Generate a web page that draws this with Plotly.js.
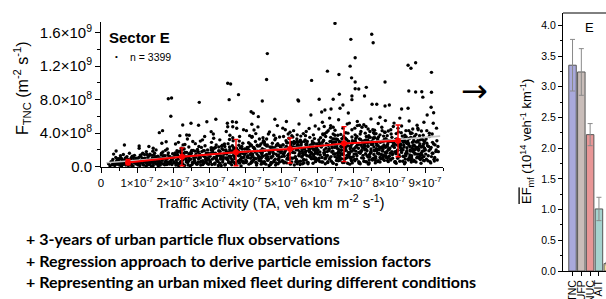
<!DOCTYPE html>
<html>
<head>
<meta charset="utf-8">
<script src="https://cdn.plot.ly/plotly-3.0.1.min.js"></script>
<style>
  html, body { margin: 0; padding: 0; background: #fff; }
  #chart { width: 606px; height: 299px; }
</style>
</head>
<body>
<div id="chart"></div>
<script>
// ---------------- DATA ----------------
// Scatter cloud: traffic activity in units of 1e-7 veh km m^-2 s^-1, flux in units of 1e8 m^-2 s^-1
const taCloud = [
  0.21,0.25,0.28,0.31,0.33,0.36,0.38,0.41,0.43,0.45,
  0.47,0.49,0.52,0.54,0.55,0.57,0.59,0.61,0.62,0.64,
  0.66,0.68,0.69,0.71,0.72,0.74,0.76,0.78,0.79,0.81,
  0.83,0.84,0.86,0.88,0.89,0.91,0.93,0.94,0.96,0.98,
  0.99,0.35,0.51,0.73,0.87,
  1.02,1.05,1.08,1.11,1.14,1.17,1.2,1.23,1.26,1.29,
  1.31,1.34,1.37,1.4,1.43,1.46,1.49,1.52,1.55,1.58,
  1.61,1.64,1.67,1.7,1.73,1.76,1.79,1.82,1.85,1.88,
  1.91,1.94,1.97,1.99,1.06,1.19,1.33,1.47,1.59,1.72,
  1.84,1.96,1.13,1.28,1.41,1.53,1.66,1.78,1.9,1.25,
  1.38,1.51,1.63,1.77,1.87,1.09,1.22,1.44,1.68,1.93,
  2.02,2.05,2.08,2.11,2.14,2.17,2.2,2.23,2.26,2.29,
  2.32,2.35,2.38,2.41,2.44,2.47,2.5,2.53,2.56,2.59,
  2.62,2.65,2.68,2.71,2.74,2.77,2.8,2.83,2.86,2.89,
  2.92,2.95,2.98,2.07,2.19,2.31,2.43,2.55,2.67,2.79,
  2.91,2.13,2.27,2.39,2.51,2.63,2.75,2.87,2.99,2.03,
  2.16,2.28,2.46,2.58,2.72,2.84,2.96,2.22,2.36,2.48,
  2.61,2.73,2.85,2.97,2.1,2.34,2.57,2.69,2.82,2.94,
  3.02,3.05,3.08,3.11,3.14,3.17,3.2,3.23,3.26,3.29,
  3.32,3.35,3.38,3.41,3.44,3.47,3.5,3.53,3.56,3.59,
  3.62,3.65,3.68,3.71,3.74,3.77,3.8,3.83,3.86,3.89,
  3.92,3.95,3.98,3.07,3.19,3.31,3.43,3.55,3.67,3.79,
  3.91,3.03,3.15,3.27,3.39,3.51,3.63,3.75,3.87,3.99,
  3.1,3.22,3.34,3.46,3.58,3.7,3.82,3.94,3.13,3.37,
  3.49,3.61,3.73,3.85,3.97,3.25,3.45,3.65,3.85,3.06,
  3.28,3.52,3.76,3.93,3.18,3.4,3.64,3.88,3.33,3.57,
  4.02,4.05,4.08,4.11,4.14,4.17,4.2,4.23,4.26,4.29,
  4.32,4.35,4.38,4.41,4.44,4.47,4.5,4.53,4.56,4.59,
  4.62,4.65,4.68,4.71,4.74,4.77,4.8,4.83,4.86,4.89,
  4.92,4.95,4.98,4.07,4.19,4.31,4.43,4.55,4.67,4.79,
  4.91,4.03,4.15,4.27,4.39,4.51,4.63,4.75,4.87,4.99,
  4.1,4.22,4.34,4.46,4.58,4.7,4.82,4.94,4.13,4.37,
  4.49,4.61,4.73,4.85,4.97,4.25,4.45,4.65,4.85,4.06,
  4.28,4.52,4.76,4.93,4.18,4.4,4.64,4.88,4.33,4.57,
  4.09,4.21,4.42,4.54,4.69,4.81,4.96,4.16,4.48,4.72,
  5.02,5.05,5.08,5.11,5.14,5.17,5.2,5.23,5.26,5.29,
  5.32,5.35,5.38,5.41,5.44,5.47,5.5,5.53,5.56,5.59,
  5.62,5.65,5.68,5.71,5.74,5.77,5.8,5.83,5.86,5.89,
  5.92,5.95,5.98,5.07,5.19,5.31,5.43,5.55,5.67,5.79,
  5.91,5.03,5.15,5.27,5.39,5.51,5.63,5.75,5.87,5.99,
  5.1,5.22,5.34,5.46,5.58,5.7,5.82,5.94,5.13,5.37,
  5.49,5.61,5.73,5.85,5.97,5.25,5.45,5.65,5.85,5.06,
  5.28,5.52,5.76,5.93,5.18,5.4,5.64,5.88,5.33,5.57,
  5.09,5.21,5.42,5.54,5.69,5.81,5.96,5.16,5.48,5.72,
  5.04,5.24,5.36,5.6,5.78,5.9,5.12,5.44,5.68,5.84,
  6.02,6.05,6.08,6.11,6.14,6.17,6.2,6.23,6.26,6.29,
  6.32,6.35,6.38,6.41,6.44,6.47,6.5,6.53,6.56,6.59,
  6.62,6.65,6.68,6.71,6.74,6.77,6.8,6.83,6.86,6.89,
  6.92,6.95,6.98,6.07,6.19,6.31,6.43,6.55,6.67,6.79,
  6.91,6.03,6.15,6.27,6.39,6.51,6.63,6.75,6.87,6.99,
  6.1,6.22,6.34,6.46,6.58,6.7,6.82,6.94,6.13,6.37,
  6.49,6.61,6.73,6.85,6.97,6.25,6.45,6.65,6.85,6.06,
  6.28,6.52,6.76,6.93,6.18,6.4,6.64,6.88,6.33,6.57,
  6.09,6.21,6.42,6.54,6.69,6.81,6.96,6.16,6.48,6.72,
  6.04,6.24,6.36,6.6,6.78,6.9,6.12,6.44,6.68,6.84,
  6.01,6.3,6.5,6.7,6.95,6.2,6.41,6.62,6.83,6.98,
  7.02,7.05,7.08,7.11,7.14,7.17,7.2,7.23,7.26,7.29,
  7.32,7.35,7.38,7.41,7.44,7.47,7.5,7.53,7.56,7.59,
  7.62,7.65,7.68,7.71,7.74,7.77,7.8,7.83,7.86,7.89,
  7.92,7.95,7.98,7.07,7.19,7.31,7.43,7.55,7.67,7.79,
  7.91,7.03,7.15,7.27,7.39,7.51,7.63,7.75,7.87,7.99,
  7.1,7.22,7.34,7.46,7.58,7.7,7.82,7.94,7.13,7.37,
  7.49,7.61,7.73,7.85,7.97,7.25,7.45,7.65,7.85,7.06,
  7.28,7.52,7.76,7.93,7.18,7.4,7.64,7.88,7.33,7.57,
  7.09,7.21,7.42,7.54,7.69,7.81,7.96,7.16,7.48,7.72,
  7.04,7.24,7.36,7.6,7.78,7.9,7.12,7.44,7.68,7.84,
  7.01,7.3,7.5,7.7,7.95,7.2,7.41,7.62,7.83,7.98,
  7.11,7.35,7.55,7.75,7.92,7.06,7.47,7.66,7.86,7.27,
  8.02,8.05,8.08,8.11,8.14,8.17,8.2,8.23,8.26,8.29,
  8.32,8.35,8.38,8.41,8.44,8.47,8.5,8.53,8.56,8.59,
  8.62,8.65,8.68,8.71,8.74,8.77,8.8,8.83,8.86,8.89,
  8.92,8.95,8.98,8.07,8.19,8.31,8.43,8.55,8.67,8.79,
  8.91,8.03,8.15,8.27,8.39,8.51,8.63,8.75,8.87,8.99,
  8.1,8.22,8.34,8.46,8.58,8.7,8.82,8.94,8.13,8.37,
  8.49,8.61,8.73,8.85,8.97,8.25,8.45,8.65,8.85,8.06,
  8.28,8.52,8.76,8.93,8.18,8.4,8.64,8.88,8.33,8.57,
  8.09,8.21,8.42,8.54,8.69,8.81,8.96,8.16,8.48,8.72,
  8.04,8.24,8.36,8.6,8.78,8.9,8.12,8.44,8.68,8.84,
  8.01,8.3,8.5,8.7,8.95,8.2,8.41,8.62,8.83,8.98,
  9.02,9.05,9.08,9.12,9.15,9.18,9.21,9.25,9.3,9.36,
  9.03,9.1,9.16,9.22,9.28,9.33
];
const fCloud = [
  0.35,0.12,0.6,0.22,0.85,0.4,0.15,1.1,0.55,0.28,
  0.95,0.7,0.18,1.3,0.45,0.08,0.9,0.62,1.45,0.3,
  0.75,1.05,0.2,0.5,1.2,0.88,0.14,0.65,1.6,0.38,
  0.98,0.25,1.15,0.55,0.1,0.8,1.35,0.42,0.68,1.0,
  0.3,1.5,0.95,0.6,1.25,
  0.4,1.1,0.15,0.7,1.5,0.3,0.95,0.55,1.8,0.2,
  0.85,1.3,0.45,0.1,1.05,0.65,1.6,0.35,0.9,1.25,
  0.5,0.18,1.4,0.75,1.15,0.28,1.95,0.6,1.0,0.4,
  1.2,0.7,0.25,1.55,2.2,0.6,2.4,1.35,0.12,1.75,
  2.1,0.95,0.8,1.45,0.55,2.0,0.9,1.3,0.32,0.08,
  0.68,1.1,0.42,0.22,1.65,1.38,1.02,1.85,1.6,0.5,
  0.6,1.4,0.2,1.9,0.9,0.35,1.2,2.2,0.75,1.55,
  0.15,1.05,1.7,0.5,2.35,0.85,1.3,0.25,1.95,0.65,
  1.15,0.4,2.05,0.95,1.5,0.2,1.8,0.7,1.25,2.5,
  0.55,1.0,1.6,2.7,0.45,2.1,1.1,3.0,0.3,2.3,
  0.88,1.75,1.0,0.7,1.6,1.35,0.52,1.9,0.28,1.15,
  0.1,2.6,1.45,0.95,2.4,0.38,2.0,1.65,0.82,0.12,
  1.85,1.2,0.6,1.4,0.5,1.25,0.45,1.75,3.2,0.78,
  0.7,1.6,0.25,2.2,1.1,0.45,2.6,1.35,0.15,1.85,
  1.0,2.45,0.55,1.5,0.2,2.0,0.9,2.75,1.25,0.4,
  1.7,0.8,2.3,1.15,0.3,1.95,0.65,2.55,1.4,0.1,
  2.1,1.05,0.5,2.9,0.95,1.8,2.7,0.6,3.1,1.55,
  2.4,1.25,0.35,2.35,1.2,1.65,0.22,2.15,0.85,1.45,
  1.9,0.75,0.15,1.05,2.05,0.5,1.3,2.8,3.4,2.55,
  1.5,1.0,1.75,0.42,1.15,0.6,0.3,2.5,3.6,2.25,
  1.35,0.85,2.2,0.65,1.6,2.0,1.85,1.7,0.9,3.25,
  0.8,2.1,1.3,0.3,2.7,1.6,0.55,2.3,1.05,3.0,
  0.2,1.85,1.15,2.5,0.65,1.4,2.9,0.4,1.95,1.0,
  2.6,0.9,1.7,0.25,2.2,1.25,0.6,3.2,1.5,2.05,
  0.35,1.1,2.4,1.75,3.5,0.95,1.9,2.65,0.15,1.55,
  2.75,0.5,1.45,2.0,0.75,3.1,1.2,2.35,0.45,1.65,
  2.85,0.7,2.55,1.6,0.3,1.85,2.15,0.85,3.7,1.3,
  0.55,2.45,1.05,3.4,1.9,2.25,1.0,3.9,0.2,1.15,
  1.75,2.0,2.8,1.4,0.6,3.3,0.9,2.6,0.4,1.35,
  2.3,1.5,1.1,2.95,1.65,0.75,2.5,1.0,1.7,0.5,
  1.2,2.6,0.45,1.8,3.1,0.9,2.2,1.5,0.3,2.9,
  1.0,2.35,1.65,0.6,3.3,2.0,1.3,0.25,2.7,1.85,
  0.75,3.0,1.45,2.45,0.5,1.95,3.5,1.1,2.25,0.4,
  2.8,1.6,0.95,3.6,1.35,2.05,0.85,2.55,3.2,1.75,
  1.25,0.65,2.4,1.05,2.85,1.55,2.1,0.35,3.05,2.3,
  0.55,3.4,1.7,2.65,1.15,0.8,2.5,1.9,2.0,0.2,
  2.95,1.4,3.0,1.6,0.7,4.1,3.8,2.15,0.95,1.5,
  2.75,1.8,2.3,3.35,1.0,1.2,0.45,2.6,3.55,2.2,
  1.65,0.9,2.25,3.15,1.85,1.35,1.05,2.85,0.6,2.7,
  2.1,1.55,3.0,0.35,1.25,2.05,4.4,2.4,3.7,1.7,
  1.5,3.2,0.6,2.4,1.1,3.8,2.0,0.35,2.75,1.35,
  2.55,0.9,3.5,1.75,0.45,2.9,1.2,3.3,2.2,0.7,
  3.0,1.6,2.35,0.5,3.6,1.9,1.0,2.65,4.0,1.45,
  2.15,0.8,3.1,2.6,1.65,4.3,2.85,1.05,2.0,3.4,
  0.3,2.0,2.9,1.25,3.05,2.45,0.75,2.3,1.7,2.8,
  3.45,0.95,2.15,1.5,3.75,2.7,3.25,1.85,0.55,4.6,
  2.3,1.15,1.55,0.4,3.55,2.2,3.9,2.75,2.5,1.0,
  1.8,2.95,0.85,2.45,3.15,0.65,1.3,3.0,2.0,1.6,
  2.7,1.4,2.6,0.25,3.35,1.95,1.1,3.9,3.3,2.9,
  0.8,3.6,1.05,2.05,2.4,1.2,2.35,1.85,0.95,5.1,
  1.7,0.5,3.75,1.5,2.6,4.8,2.5,2.85,1.35,0.45,
  2.0,0.7,3.4,1.3,2.7,0.4,3.9,1.8,2.3,1.0,
  3.1,1.55,0.55,2.5,3.7,1.15,2.1,0.85,3.3,1.95,
  0.45,2.8,1.6,3.55,2.25,0.95,3.0,1.4,2.6,4.1,
  1.25,2.45,0.6,2.95,1.7,2.2,0.3,4.4,2.9,1.05,
  3.35,1.5,2.2,3.05,1.9,2.65,1.2,3.8,0.75,2.1,
  0.9,2.55,4.0,1.45,2.35,0.7,1.85,3.2,2.75,3.6,
  1.65,3.45,2.0,2.4,1.1,4.7,0.8,2.15,3.65,3.8,
  1.35,3.0,2.9,1.75,0.5,2.85,3.95,1.3,2.45,1.0,
  2.4,3.25,1.15,2.75,0.6,4.3,2.65,1.7,3.5,1.55,
  3.0,1.95,2.1,3.9,1.45,2.3,4.9,2.95,3.35,0.9,
  1.2,2.6,1.85,2.5,3.7,0.35,3.15,0.75,2.05,2.9,
  3.6,0.6,2.85,1.1,1.6,2.25,4.2,1.9,3.05,2.95,
  2.2,0.8,3.5,1.5,2.8,0.5,3.95,1.9,2.5,1.2,
  3.2,1.7,0.65,2.6,3.75,1.3,2.25,0.9,3.35,2.0,
  0.55,2.9,1.75,3.6,2.35,1.05,3.1,1.5,2.7,0.4,
  1.4,2.45,0.7,3.0,1.8,2.3,0.35,4.3,2.95,1.15,
  3.3,1.6,2.3,3.1,2.0,2.75,1.3,3.85,0.85,2.2,
  1.0,2.6,4.05,1.55,2.4,0.75,1.95,3.2,2.85,3.65,
  1.75,3.5,2.05,2.5,1.2,4.6,0.9,2.2,3.7,3.9,
  1.4,3.05,2.95,1.85,0.6,2.9,4.0,1.35,2.55,1.1,
  2.45,3.3,1.2,2.8,0.65,4.4,2.7,1.75,3.55,1.6,
  3.05,2.0,2.15,3.95,1.5,2.35,4.8,3.0,3.4,1.0,
  1.25,2.65,1.9,2.55,3.75,0.4,3.2,0.8,2.1,3.0,
  1.5,2.8,0.7,3.6,2.1,1.2,2.9,0.9,1.8,2.4,
  3.3,2.4,0.45,1.6,2.6,3.1
];
// densest core of the cloud
const taCore = [
  0.32,0.39,0.44,0.5,0.56,0.6,0.67,0.7,0.77,0.82,0.85,0.9,0.95,0.97,0.58,
  1.01,1.04,1.07,1.1,1.12,1.15,1.18,1.21,1.24,1.27,
  1.3,1.32,1.35,1.39,1.42,1.45,1.48,1.5,1.54,1.57,
  1.6,1.62,1.65,1.69,1.71,1.74,1.78,1.81,1.83,1.86,
  1.89,1.92,1.95,1.98,1.16,1.36,1.56,1.75,1.03,1.46,
  2.01,2.04,2.06,2.09,2.12,2.15,2.18,2.21,2.24,2.27,
  2.3,2.33,2.37,2.4,2.42,2.45,2.49,2.52,2.54,2.57,
  2.6,2.64,2.66,2.7,2.76,2.78,2.81,2.84,2.87,2.9,
  2.93,2.96,2.99,2.25,2.44,2.64,2.83,2.12,2.5,2.7,
  3.01,3.04,3.06,3.09,3.12,3.16,3.18,3.21,3.24,3.27,
  3.3,3.33,3.36,3.39,3.42,3.45,3.48,3.5,3.54,3.57,
  3.6,3.63,3.66,3.69,3.72,3.75,3.78,3.81,3.84,3.87,
  3.9,3.93,3.96,3.99,3.2,3.44,3.68,3.92,3.15,3.55,
  4.01,4.04,4.06,4.09,4.12,4.16,4.18,4.21,4.24,4.27,
  4.3,4.33,4.36,4.39,4.42,4.45,4.48,4.5,4.54,4.57,
  4.6,4.63,4.66,4.69,4.72,4.75,4.78,4.81,4.84,4.87,
  4.9,4.93,4.96,4.99,4.2,4.44,4.68,4.92,4.15,4.55,
  5.01,5.04,5.06,5.09,5.12,5.16,5.18,5.21,5.24,5.27,
  5.3,5.33,5.36,5.39,5.42,5.45,5.48,5.5,5.54,5.57,
  5.6,5.63,5.66,5.69,5.72,5.75,5.78,5.81,5.84,5.87,
  5.9,5.93,5.96,5.99,5.2,5.44,5.68,5.92,5.15,5.55,
  5.08,5.32,5.58,5.8,5.97,
  6.01,6.04,6.06,6.09,6.12,6.16,6.18,6.21,6.24,6.27,
  6.3,6.33,6.36,6.39,6.42,6.45,6.48,6.5,6.54,6.57,
  6.6,6.63,6.66,6.69,6.72,6.75,6.78,6.81,6.84,6.87,
  6.9,6.93,6.96,6.99,6.2,6.44,6.68,6.92,6.15,6.55,
  6.08,6.32,6.58,6.8,6.97,
  7.01,7.04,7.06,7.09,7.12,7.16,7.18,7.21,7.24,7.27,
  7.3,7.33,7.36,7.39,7.42,7.45,7.48,7.5,7.54,7.57,
  7.6,7.63,7.66,7.69,7.72,7.75,7.78,7.81,7.84,7.87,
  7.9,7.93,7.96,7.99,7.2,7.44,7.68,7.92,7.15,7.55,
  7.08,7.32,7.58,7.8,7.97,
  8.01,8.04,8.06,8.09,8.12,8.16,8.18,8.21,8.24,8.27,
  8.3,8.33,8.36,8.39,8.42,8.45,8.48,8.5,8.54,8.57,
  8.6,8.63,8.66,8.69,8.72,8.75,8.78,8.81,8.84,8.87,
  8.9,8.93,8.96,8.99,8.2,8.44,8.68,8.92,8.15,8.55,
  8.08,8.32,8.58,8.8,8.97,
  9.01,9.04,9.07,9.09,9.11,9.14,9.17,9.2,9.24,9.27,9.31,9.34
];
const fCore = [
  0.5,0.3,0.75,0.45,1.0,0.25,0.55,0.9,0.4,0.7,0.15,1.1,0.5,0.85,0.65,
  0.9,0.3,0.6,1.25,0.45,1.0,0.2,1.45,0.7,0.4,
  1.1,0.55,0.25,0.8,1.35,0.15,0.95,0.6,1.2,0.3,
  0.75,1.05,0.5,0.95,0.35,1.3,0.6,0.85,0.25,1.4,
  0.55,1.15,0.4,0.85,1.6,1.5,0.65,1.0,0.2,0.45,
  1.1,0.45,1.65,0.8,1.35,0.25,1.85,0.6,1.4,0.35,
  1.0,1.7,0.55,1.25,0.2,1.55,0.9,1.95,0.5,1.2,
  0.75,1.5,0.3,1.8,1.05,0.65,1.35,1.9,0.45,1.1,
  1.6,0.35,0.95,2.0,0.7,1.15,0.25,1.45,1.75,0.55,
  1.4,0.55,2.0,0.9,1.65,0.3,2.3,1.15,0.7,1.9,
  0.4,1.3,2.15,0.85,1.55,0.25,1.8,1.05,0.5,2.35,
  1.25,0.6,1.7,2.05,0.95,0.35,1.5,1.95,0.75,2.25,
  1.1,1.6,0.45,2.1,1.0,2.4,1.35,0.65,2.2,1.75,
  1.6,0.65,2.3,1.1,1.95,0.4,2.55,1.35,0.8,2.1,
  0.5,1.5,2.45,1.0,1.8,0.3,2.15,1.25,0.6,2.6,
  1.45,0.75,1.9,2.35,1.15,0.45,1.7,2.25,0.9,2.5,
  1.3,1.85,0.55,2.4,1.2,2.7,1.55,0.85,2.5,2.0,
  1.8,0.7,2.6,1.25,2.2,0.45,2.85,1.5,0.9,2.4,
  0.55,1.7,2.75,1.1,2.0,0.35,2.45,1.4,0.65,2.95,
  1.6,0.85,2.15,2.65,1.3,0.5,1.9,2.55,1.0,2.8,
  1.45,2.1,0.6,2.7,1.35,3.0,1.75,0.95,2.3,2.25,
  1.55,2.35,1.2,2.05,1.65,
  2.0,0.8,2.9,1.4,2.45,0.55,3.1,1.7,1.0,2.65,
  0.6,1.9,3.0,1.2,2.25,0.4,2.7,1.55,0.75,3.25,
  1.8,0.95,2.4,2.95,1.45,0.5,2.1,2.8,1.1,3.05,
  1.6,2.3,0.7,2.95,1.5,3.3,1.95,1.05,2.55,2.5,
  1.75,2.6,1.35,2.25,1.85,
  2.1,0.85,3.1,1.5,2.6,0.6,3.3,1.8,1.05,2.85,
  0.65,2.0,3.2,1.3,2.4,0.45,2.9,1.65,0.8,3.45,
  1.9,1.0,2.55,3.15,1.55,0.55,2.25,3.0,1.2,3.25,
  1.7,2.45,0.75,3.1,1.6,3.5,2.05,1.1,2.7,2.65,
  1.85,2.75,1.45,2.35,1.95,
  2.05,0.9,3.0,1.45,2.55,0.6,3.25,1.75,1.0,2.8,
  0.65,1.95,3.15,1.25,2.35,0.5,2.85,1.6,0.8,3.4,
  1.85,1.0,2.5,3.1,1.5,0.55,2.2,2.95,1.15,3.2,
  1.65,2.4,0.75,3.05,1.55,3.4,2.0,1.05,2.65,2.6,
  1.8,2.7,1.4,2.3,1.9,
  2.0,0.9,2.5,1.3,1.9,0.6,2.3,1.6,2.7,1.1,2.0,0.8
];
// sparser upper part of the cloud
const taUpper = [
  2.15,2.4,2.62,2.88,2.33,2.76,
  3.12,3.3,3.48,3.66,3.84,3.96,3.58,
  4.04,4.2,4.36,4.5,4.68,4.8,4.9,4.6,4.3,4.96,
  5.05,5.2,5.35,5.5,5.62,5.78,5.9,5.95,5.3,5.7,5.15,5.55,
  6.05,6.15,6.27,6.38,6.5,6.6,6.72,6.8,6.9,6.97,6.22,6.45,6.66,6.35,
  7.05,7.12,7.22,7.3,7.42,7.5,7.6,7.7,7.8,7.9,7.98,7.36,7.57,7.75,7.18,7.88,
  8.05,8.14,8.26,8.35,8.47,8.56,8.66,8.78,8.9,8.97,8.3,8.6,8.8,
  9.05,9.2,9.32
];
const fUpper = [
  2.9,3.3,2.75,3.6,2.65,3.05,
  3.9,3.2,4.2,3.45,3.05,4.4,3.75,
  4.3,3.6,4.75,3.45,4.15,3.75,4.9,3.3,3.95,3.55,
  4.6,3.9,4.3,5.1,3.95,4.55,3.8,4.85,3.7,4.2,5.4,3.65,
  4.5,5.3,4.1,4.9,4.35,5.6,4.6,4.05,5.2,4.4,3.95,4.7,3.85,5.8,
  4.6,5.4,4.2,5.0,4.5,5.7,4.35,5.15,4.7,5.5,4.25,4.8,4.05,5.9,4.95,4.1,
  4.4,5.2,4.15,4.85,4.3,5.45,4.5,4.95,4.25,5.3,5.8,4.05,4.6,
  4.3,3.9,4.6
];
// isolated high points
const taOut = [
  4.62,4.6,3.52,3.6,3.82,1.87,1.96,3.56,
  6.5,7.52,6.94,7.56,7.06,6.92,6.29,6.61,6.96,5.85,7.06,7.89,7.37,7.06,7.16,6.62,6.97,7.32,
  8.53,8.61,8.74,9.18,8.55,8.74,8.91,9.18,8.94,6.97,6.06,6.45,5.47,
  2.73,4.48,4.17,4.23,4.37,1.94,2.27,2.5,2.71,2.94,3.19,1.62,1.71,2.19,1.81,1.69,
  3.51,3.65,3.76,3.52,3.66,3.77,4.19,4.25,3.06,2.38,2.45,0.42,0.65,1.06,1.45,
  5.49,5.83,4.83,6.87,7.53,7.66,7.89,8.01,8.35,8.53,9.06,9.24,9.23,9.12,9.26,
  6.64,6.72,6.13,6.22,9.17,9.37,6.39
];
const fOut = [
  13.5,10.4,9.95,9.87,8.6,8.1,8.2,8.0,
  17.1,15.8,15.2,14.8,13.0,12.0,11.4,11.0,10.6,10.3,10.1,10.1,9.47,9.3,9.27,8.64,8.44,8.44,
  12.1,11.74,12.4,11.26,9.03,8.91,8.95,8.88,8.3,8.0,8.04,8.04,7.96,
  7.68,7.84,6.56,6.37,5.97,6.01,4.98,5.18,4.94,5.37,5.66,4.06,4.3,3.7,2.98,2.79,
  5.18,5.37,5.3,4.77,4.77,4.58,5.06,4.38,4.18,3.78,3.75,1.87,2.59,2.47,2.2,
  7.84,6.17,5.66,6.41,7.45,7.45,7.24,7.36,6.89,6.97,6.17,6.44,5.18,3.99,0.68,
  6.97,7.36,6.53,6.77,7.09,1.79,6.88
];
// binned means with error bars (red)
const binTA = [0.75, 2.25, 3.75, 5.25, 6.75, 8.25];
const binF = [0.51, 1.19, 1.71, 2.11, 2.78, 3.10];
const binErrPlus = [0.35, 1.05, 1.55, 1.32, 2.0, 1.88];
const binErrMinus = [0.3, 1.08, 1.6, 1.67, 2.18, 1.91];
// regression line (grey)
const fitTA = [0.15, 9.42];
const fitF = [0.47, 3.65];
const nObs = 3399;
// axis tick labels
const xTickVals = [0,1,2,3,4,5,6,7,8,9];
const xTickText = ["0","1×10<sup>-7</sup>","2×10<sup>-7</sup>","3×10<sup>-7</sup>","4×10<sup>-7</sup>","5×10<sup>-7</sup>","6×10<sup>-7</sup>","7×10<sup>-7</sup>","8×10<sup>-7</sup>","9×10<sup>-7</sup>"];
const yTickVals = [0,4,8,12,16];
const yTickText = ["0.0","4.0×10<sup>8</sup>","8.0×10<sup>8</sup>","1.2×10<sup>9</sup>","1.6×10<sup>9</sup>"];
// emission factors (right panel)
const species = ["TNC","UFP","NUC","AIT","ACC"];
const efMean = [3.35, 3.24, 2.22, 1.01, 0.12];
const efErr = [0.42, 0.38, 0.18, 0.19, 0.02];
const bulletLines = [
  "+ 3-years of urban particle flux observations",
  "+ Regression approach to derive particle emission factors",
  "+ Representing an urban mixed fleet during different conditions"
];

// ---------------- STYLE ----------------
const W = 606, H = 299;
const px = v => v / W;
const py = v => (H - v) / H;
const barColors = ["#a9a9dc", "#c9bdb9", "#e89696", "#a6d2ce", "#f3e3a0"];
const FONT = "Liberation Sans, Arial, sans-serif";

const sx = a => a.map(v => v * 1e-7);
const sy = a => a.map(v => v * 1e8);

const allTA = taCloud.concat(taCore, taUpper, taOut);
const allF = fCloud.concat(fCore, fUpper, fOut);
if (allTA.length !== allF.length) console.warn("length mismatch", allTA.length, allF.length);

const xMinor = []; for (let i = 0; i <= 19; i++) xMinor.push(i * 0.5e-7);
const yMinor = []; for (let i = 0; i <= 8; i++) yMinor.push(i * 2e8);

const xRange = [0, 9.5e-7];
const yRange = [-0.04e8, 17.27e8];

const traces = [
  { type: "scatter", mode: "markers", x: sx(allTA), y: sy(allF), xaxis: "x", yaxis: "y",
    marker: { color: "#000", size: 3.4 }, hoverinfo: "skip", showlegend: false, cliponaxis: true },
  { type: "scatter", mode: "lines", x: sx(fitTA), y: sy(fitF), xaxis: "x", yaxis: "y",
    line: { color: "#c4c4c4", width: 1.6 }, hoverinfo: "skip", showlegend: false },
  { type: "scatter", mode: "lines+markers", x: sx(binTA), y: sy(binF), xaxis: "x", yaxis: "y",
    line: { color: "#ff0000", width: 2 }, marker: { color: "#ff0000", size: 6 },
    error_y: { type: "data", symmetric: false, array: sy(binErrPlus), arrayminus: sy(binErrMinus),
               color: "#ff0000", thickness: 1.4, width: 2.5 },
    hoverinfo: "skip", showlegend: false },
  { type: "bar", x: species, y: efMean, xaxis: "x2", yaxis: "y2",
    marker: { color: barColors, line: { color: "#555", width: 1 } },
    error_y: { type: "data", array: efErr, color: "#8a8a8a", thickness: 1, width: 2.5 },
    hoverinfo: "skip", showlegend: false }
];

const axBase = { showgrid: false, zeroline: false, showline: true, linecolor: "#000", linewidth: 1,
                 tickcolor: "#000", tickwidth: 1 };

const layout = {
  width: W, height: H,
  margin: { l: 0, r: 0, t: 0, b: 0 },
  paper_bgcolor: "#fff", plot_bgcolor: "#fff",
  font: { family: FONT, color: "#000" },
  bargap: 0.15,
  showlegend: false,
  xaxis: Object.assign({}, axBase, {
    domain: [px(101), px(443)], anchor: "y", range: xRange,
    tickmode: "array", tickvals: sx(xTickVals), ticktext: xTickText,
    ticks: "outside", ticklen: 5, tickfont: { size: 11.5, family: FONT },
    minor: { tickmode: "array", tickvals: xMinor, ticks: "outside", ticklen: 3, tickcolor: "#000" }
  }),
  yaxis: Object.assign({}, axBase, {
    domain: [py(167), py(22)], anchor: "x", range: yRange,
    tickmode: "array", tickvals: sy(yTickVals), ticktext: yTickText,
    ticks: "outside", ticklen: 5, tickfont: { size: 15, family: FONT },
    minor: { tickmode: "array", tickvals: yMinor, ticks: "outside", ticklen: 3, tickcolor: "#000" }
  }),
  xaxis3: Object.assign({}, axBase, {
    overlaying: "x", side: "top", anchor: "y", range: xRange,
    tickmode: "array", tickvals: sx(xTickVals), showticklabels: false,
    ticks: "inside", ticklen: 5,
    minor: { tickmode: "array", tickvals: xMinor, ticks: "inside", ticklen: 3, tickcolor: "#000" }
  }),
  yaxis3: Object.assign({}, axBase, {
    overlaying: "y", side: "right", anchor: "x", range: yRange,
    tickmode: "array", tickvals: sy(yTickVals), showticklabels: false,
    ticks: "inside", ticklen: 5,
    minor: { tickmode: "array", tickvals: yMinor, ticks: "inside", ticklen: 3, tickcolor: "#000" }
  }),
  xaxis2: Object.assign({}, axBase, {
    domain: [px(563), 1], anchor: "y2", type: "category", range: [-1.08, 3.8],
    tickmode: "array", tickvals: species, ticktext: species,
    ticks: "outside", ticklen: 4, tickangle: -90, tickfont: { size: 10.5, family: FONT }
  }),
  yaxis2: Object.assign({}, axBase, {
    domain: [py(271), py(13)], anchor: "x2", range: [0, 4.2],
    tickmode: "linear", tick0: 0, dtick: 0.5, tickformat: ".1f",
    ticks: "outside", ticklen: 4, tickfont: { size: 10.5, family: FONT },
    minor: { tickmode: "linear", tick0: 0, dtick: 0.25, ticks: "outside", ticklen: 2, tickcolor: "#000" }
  }),
  shapes: [
    { type: "line", xref: "paper", yref: "paper", x0: px(563), x1: 1, y0: py(13), y1: py(13),
      line: { color: "#000", width: 1 } }
  ],
  annotations: [
    { xref: "paper", yref: "paper", x: px(107), y: py(37), xanchor: "left", yanchor: "middle",
      text: "<b>Sector E</b>", showarrow: false, font: { size: 15, family: FONT } },
    { xref: "paper", yref: "paper", x: px(116), y: py(57), xanchor: "center", yanchor: "middle",
      text: "•", showarrow: false, font: { size: 8, family: FONT } },
    { xref: "paper", yref: "paper", x: px(128), y: py(57), xanchor: "left", yanchor: "middle",
      text: "n = " + nObs, showarrow: false, font: { size: 10.5, family: FONT } },
    { xref: "paper", yref: "paper", x: px(22), y: py(88), xanchor: "center", yanchor: "middle",
      textangle: -90, text: "F<sub>TNC</sub> (m<sup>-2</sup> s<sup>-1</sup>)", showarrow: false,
      font: { size: 16, family: FONT } },
    { xref: "paper", yref: "paper", x: px(271), y: py(201), xanchor: "center", yanchor: "middle",
      text: "Traffic Activity (TA, veh km m<sup>-2</sup> s<sup>-1</sup>)", showarrow: false,
      font: { size: 15, family: FONT } },
    { xref: "paper", yref: "paper", x: px(474), y: py(91), xanchor: "center", yanchor: "middle",
      text: "→", showarrow: false, font: { size: 32, family: "DejaVu Sans", color: "#000" } },
    { xref: "paper", yref: "paper", x: px(589.5), y: py(27), xanchor: "center", yanchor: "middle",
      text: "E", showarrow: false, font: { size: 13, family: FONT } },
    { xref: "paper", yref: "paper", x: px(527), y: py(142), xanchor: "center", yanchor: "middle",
      textangle: -90,
      text: "<span style='text-decoration:overline'>EF</span><sub>mf</sub> (10<sup>14</sup> veh<sup>-1</sup> km<sup>-1</sup>)",
      showarrow: false, font: { size: 13, family: FONT } }
  ].concat(bulletLines.map((t, i) => ({
    xref: "paper", yref: "paper", x: px(24), y: py(238.5 + i * 21.5), xanchor: "left", yanchor: "middle",
    text: "<b>" + t + "</b>", showarrow: false, font: { size: 16, family: "Lato, Open Sans, sans-serif", color: "#000" }
  })))
};

Plotly.newPlot("chart", traces, layout, { staticPlot: true, displayModeBar: false });
</script>
</body>
</html>
